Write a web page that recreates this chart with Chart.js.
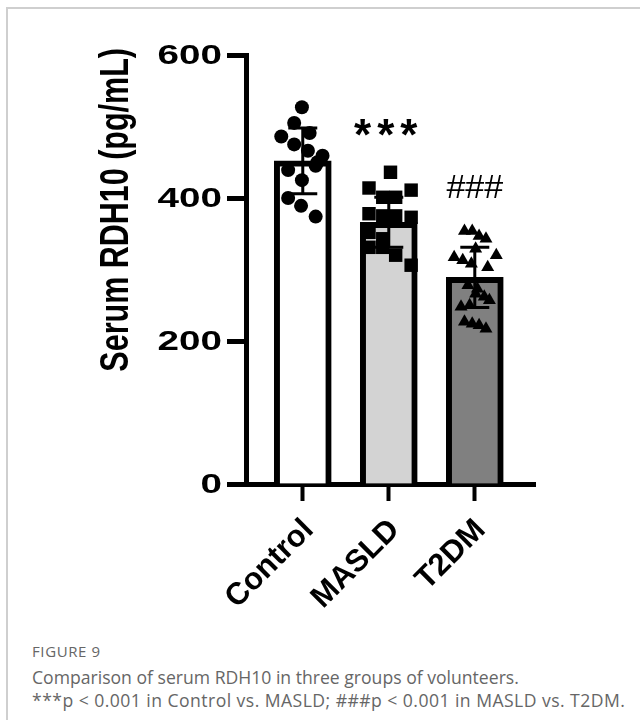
<!DOCTYPE html>
<html>
<head>
<meta charset="utf-8">
<script src="https://cdn.jsdelivr.net/npm/chart.js@4.4.1/dist/chart.umd.min.js"></script>
<style>
  html, body { margin: 0; padding: 0; background: #fff; }
  body { width: 640px; height: 720px; position: relative; overflow: hidden; font-family: "Open Sans", sans-serif; color: #666; }
  #frame { position: absolute; left: 6px; top: 7px; right: 0; bottom: 0; border-left: 2px solid #cfcfcf; border-top: 2px solid #cfcfcf; }
  #chartBox { position: absolute; left: 0; top: 0; width: 640px; height: 620px; }
  .txt { position: absolute; left: 32px; white-space: nowrap; }
  #fig { top: 641px; font-size: 15px; letter-spacing: 0.6px; }
  #cap1 { top: 665px; font-size: 17.6px; }
  #cap2 { top: 688px; font-size: 17.6px; letter-spacing: 0.45px; }
</style>
</head>
<body>
<div id="frame"></div>
<div id="chartBox"><canvas id="c" width="640" height="620"></canvas></div>
<div class="txt" id="fig">FIGURE 9</div>
<div class="txt" id="cap1">Comparison of serum RDH10 in three groups of volunteers.</div>
<div class="txt" id="cap2">***p &lt; 0.001 in Control vs. MASLD; ###p &lt; 0.001 in MASLD vs. T2DM.</div>
<script>
// groups and summary values (mean +/- SD)
const groups = ['Control', 'MASLD', 'T2DM'];
const means = [452, 366, 289];
const sds = [46, 35, 42];
const barFills = ['#ffffff', '#d3d3d3', '#808080'];

// significance marks above the bars
const marks = ['', '***', '###'];
const markValues = [null, 498, 416];

const yTicks = [0, 200, 400, 600];
const yTitle = 'Serum RDH10 (pg/mL)';

// individual points, value + horizontal scatter (in group widths)
const controlVals = [527, 505, 491, 486, 475, 466, 459, 450, 445, 439, 425, 400, 389, 374];
const controlJit  = [-0.01, -0.10, 0.08, -0.25, -0.10, 0.06, 0.23, 0.17, 0.15, -0.17, -0.01, -0.17, -0.02, 0.15];
const maslVals = [436, 414, 411, 401, 401, 378, 375, 375, 373, 352, 343, 331, 331, 320, 306];
const maslJit  = [0.02, -0.23, 0.26, -0.07, 0.08, -0.23, -0.07, 0.08, 0.26, -0.23, -0.07, -0.23, -0.07, 0.08, 0.26];
const t2dmVals = [354, 354, 347, 343, 329, 320, 317, 313, 308, 303, 278, 273, 266, 262, 257, 250, 248, 227, 224, 222, 217];
const t2dmJit  = [-0.12, -0.03, 0.05, 0.13, 0.01, 0.25, -0.24, -0.14, -0.04, 0.15, -0.08, 0.03, 0.01, 0.11, 0.17, -0.06, -0.16, -0.12, -0.03, 0.05, 0.13];

function points(vals, jit, g) {
    return vals.map((v, i) => ({ x: g + jit[i], y: v }));
}

// y labels in the figure are drawn wide, so they get a horizontal stretch
const Y_STRETCH = 1.38;

const extras = {
    id: 'extras',
    // error bars go after the bars but under the points
    afterDatasetDraw(chart, args) {
        if (args.index !== 0) return;
        const ctx = chart.ctx, xs = chart.scales.x, ys = chart.scales.y;
        ctx.save();
        ctx.strokeStyle = '#000';
        ctx.lineWidth = 3;
        means.forEach((m, i) => {
            const x = xs.getPixelForValue(i);
            const yHi = ys.getPixelForValue(m + sds[i]);
            const yLo = ys.getPixelForValue(m - sds[i]);
            ctx.beginPath();
            ctx.moveTo(x, yHi); ctx.lineTo(x, yLo);
            ctx.moveTo(x - 14.5, yHi); ctx.lineTo(x + 14.5, yHi);
            ctx.moveTo(x - 14.5, yLo); ctx.lineTo(x + 14.5, yLo);
            ctx.stroke();
        });
        ctx.restore();
    },
    afterDatasetsDraw(chart) {
        const ctx = chart.ctx, xs = chart.scales.x, ys = chart.scales.y;
        ctx.save();
        ctx.fillStyle = '#000';

        // significance marks
        ctx.textAlign = 'center';
        ctx.textBaseline = 'alphabetic';
        marks.forEach((t, i) => {
            if (!t) return;
            if (t[0] === '*') {
                ctx.font = 'bold 44px "Liberation Sans"';
                ctx.letterSpacing = '6px';
            } else {
                ctx.font = '34px "Liberation Sans"';
                ctx.letterSpacing = '0px';
            }
            const m = ctx.measureText(t);
            const y = ys.getPixelForValue(markValues[i]) + (m.actualBoundingBoxAscent - m.actualBoundingBoxDescent) / 2;
            ctx.fillText(t, xs.getPixelForValue(i), y);
        });
        ctx.letterSpacing = '0px';

        // y tick labels
        ctx.font = 'bold 28px "Liberation Sans"';
        ctx.textAlign = 'right';
        ctx.textBaseline = 'middle';
        yTicks.forEach(v => {
            ctx.save();
            ctx.translate(ys.right - 24, ys.getPixelForValue(v) + 1);
            ctx.scale(Y_STRETCH, 1);
            ctx.fillText(String(v), 0, 0);
            ctx.restore();
        });

        // y title, top-aligned to the axis
        ctx.save();
        ctx.font = 'bold 30.5px "Liberation Sans"';
        ctx.translate(117, ys.top - 7);
        ctx.scale(1.32, 1);
        ctx.rotate(-Math.PI / 2);
        ctx.textAlign = 'right';
        ctx.textBaseline = 'middle';
        ctx.fillText(yTitle, 0, 0);
        ctx.restore();

        ctx.restore();
    }
};

new Chart(document.getElementById('c'), {
    type: 'bar',
    data: {
        datasets: [{
            type: 'bar',
            data: means.map((m, i) => ({ x: i, y: m })),
            backgroundColor: barFills,
            borderColor: '#000',
            borderWidth: 6,
            borderSkipped: 'start',
            barThickness: 57,
            order: 3
        }, {
            type: 'scatter',
            data: points(controlVals, controlJit, 0),
            pointStyle: 'circle', pointRadius: 7,
            backgroundColor: '#000', borderColor: '#000', borderWidth: 0,
            order: 0
        }, {
            type: 'scatter',
            data: points(maslVals, maslJit, 1),
            pointStyle: 'rect', pointRadius: 9.5,
            backgroundColor: '#000', borderColor: '#000', borderWidth: 0,
            order: 0
        }, {
            type: 'scatter',
            data: points(t2dmVals, t2dmJit, 2),
            pointStyle: 'triangle', pointRadius: 7.5,
            backgroundColor: '#000', borderColor: '#000', borderWidth: 0,
            order: 0
        }]
    },
    options: {
        responsive: false,
        animation: false,
        clip: false,
        layout: { padding: { top: 55, right: 105, left: 0, bottom: 0 } },
        plugins: { legend: { display: false }, tooltip: { enabled: false } },
        scales: {
            x: {
                type: 'linear',
                offset: false,
                min: -0.66,
                max: 2.7,
                afterBuildTicks: s => { s.ticks = groups.map((g, i) => ({ value: i })); },
                afterFit: s => { s.height = 136; },
                ticks: {
                    callback: v => groups[v],
                    autoSkip: false,
                    minRotation: 45,
                    maxRotation: 45,
                    padding: 11,
                    labelOffset: 6,
                    color: '#000',
                    font: { family: 'Liberation Sans', weight: 'bold', size: 31 }
                },
                grid: { offset: false, drawOnChartArea: false, color: '#000', tickLength: 17, tickWidth: 4 },
                border: { color: '#000', width: 5 }
            },
            y: {
                min: 0,
                max: 600,
                afterBuildTicks: s => { s.ticks = yTicks.map(v => ({ value: v })); },
                afterFit: s => { s.width = 246; },
                ticks: { display: false },
                grid: { drawOnChartArea: false, color: '#000', tickLength: 19, tickWidth: 5 },
                border: { color: '#000', width: 5 }
            }
        }
    },
    plugins: [extras]
});
</script>
</body>
</html>
